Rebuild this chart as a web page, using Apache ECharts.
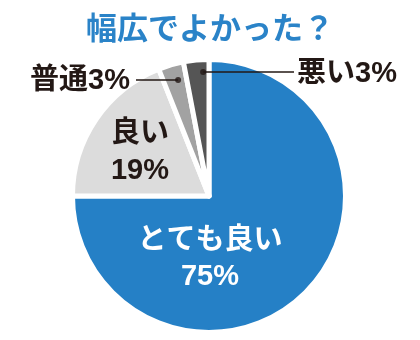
<!DOCTYPE html>
<html><head><meta charset="utf-8">
<script src="https://cdn.jsdelivr.net/npm/echarts@6/dist/echarts.min.js"></script>
<style>html,body{margin:0;padding:0;background:#fff}#c{width:420px;height:340px}</style>
</head><body><div id="c"></div>
<script>
const titleText = '幅広でよかった？';
const categories = ['とても良い', '良い', '普通', '悪い'];
const values = [75, 19, 3, 3];
const palette = ['#2580c6', '#dcdcdc', '#a2a2a2', '#555555'];

const CX = 209, CY = 196, R = 136.5;
const FONT = '"Liberation Sans", "Noto Sans CJK JP", sans-serif';
const total = values.reduce((a, b) => a + b, 0);
// position of the leader-line dot: fraction across the slice, fraction of radius
const dotAcross = [0.5, 0.5, 0.62, 0.75];
const dotR = [0, 0, 0.88, 0.91];
const dotAngle = [];
let acc = 0;
values.forEach((v, i) => { dotAngle.push(acc + v * dotAcross[i]); acc += v; });

function dotPixel(i) {
  const a = dotAngle[i] / total * 2 * Math.PI;
  const r = dotR[i] * R;
  return [CX + r * Math.sin(a), CY - r * Math.cos(a)];
}
const LEFT_END = 136, RIGHT_END = 294;

const chart = echarts.init(document.getElementById('c'), null, {renderer: 'canvas'});
const dP = dotPixel(2), dW = dotPixel(3);
chart.setOption({
  animation: false,
  title: {
    text: titleText, left: 'center', top: 10,
    textStyle: {fontSize: 31, fontWeight: 'bold', color: '#2a83c8', fontFamily: FONT}
  },
  polar: {center: [CX, CY], radius: R},
  angleAxis: {type: 'value', min: 0, max: total, startAngle: 90, clockwise: true, show: false},
  radiusAxis: {type: 'value', min: 0, max: 1, show: false},
  graphic: [
    {type: 'polyline', z: 5, shape: {points: [[LEFT_END, dP[1]], [dP[0], dP[1]]]},
     style: {stroke: '#231815', lineWidth: 1.5, fill: null}},
    {type: 'polyline', z: 5, shape: {points: [[dW[0], dW[1]], [RIGHT_END, dW[1]]]},
     style: {stroke: '#231815', lineWidth: 1.5, fill: null}}
  ],
  series: [{
    type: 'pie',
    center: [CX, CY],
    radius: R,
    startAngle: 90,
    clockwise: true,
    data: categories.map((n, i) => ({
      name: n, value: values[i],
      itemStyle: {color: palette[i]},
      label: {
        formatter: i < 2 ? '{b}\n{c}%' : '{b}{c}%',
        color: i === 0 ? '#ffffff' : '#231815',
        lineHeight: i === 0 ? 36 : 37
      },
      labelLine: {show: false}
    })),
    itemStyle: {borderColor: '#ffffff', borderWidth: 5},
    label: {position: 'inside', overflow: 'none', fontSize: 29, fontWeight: 'bold', fontFamily: FONT},
    labelLayout: function (p) {
      const i = p.dataIndex;
      if (i === 0) return {x: CX + 1, y: CY + 63, align: 'center', verticalAlign: 'middle'};
      if (i === 1) return {x: CX - 69, y: CY - 44, align: 'center', verticalAlign: 'middle'};
      const d = dotPixel(i);
      if (i === 2) return {x: 130, y: d[1] + 1, align: 'right', verticalAlign: 'middle'};
      return {x: 297, y: d[1] + 2, align: 'left', verticalAlign: 'middle'};
    }
  }, {
    type: 'scatter',
    coordinateSystem: 'polar',
    symbolSize: 6,
    itemStyle: {color: '#231815'},
    silent: true,
    z: 10,
    data: [2, 3].map(i => [dotR[i], dotAngle[i]])
  }]
});
</script></body></html>
